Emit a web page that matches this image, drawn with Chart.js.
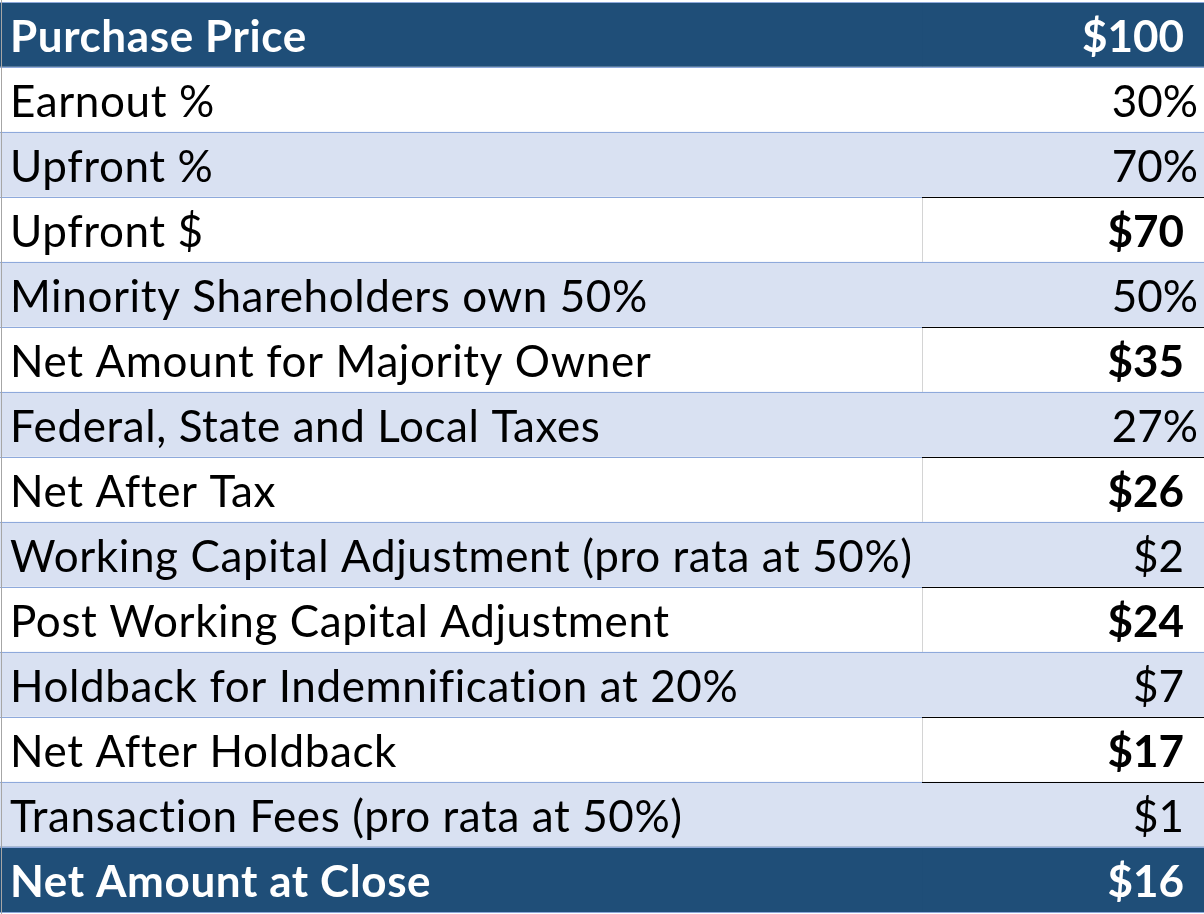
<!DOCTYPE html>
<html>
<head>
<meta charset="utf-8">
<script src="https://cdn.jsdelivr.net/npm/chart.js@4.4.1/dist/chart.umd.min.js"></script>
<style>
  html, body { margin: 0; padding: 0; background: #ffffff; }
  #wrap { width: 1204px; height: 914px; position: relative; }
</style>
</head>
<body>
<div id="wrap"><canvas id="table"></canvas></div>
<script>
// rows of the close-out table
const rowLabels = [
  'Purchase Price',
  'Earnout %',
  'Upfront %',
  'Upfront $',
  'Minority Shareholders own 50%',
  'Net Amount for Majority Owner',
  'Federal, State and Local Taxes',
  'Net After Tax',
  'Working Capital Adjustment (pro rata at 50%)',
  'Post Working Capital Adjustment',
  'Holdback for Indemnification at 20%',
  'Net After Holdback',
  'Transaction Fees (pro rata at 50%)',
  'Net Amount at Close'
];
const rowValues = ['$100', '30%', '70%', '$70', '50%', '$35', '27%', '$26', '$2', '$24', '$7', '$17', '$1', '$16'];

// which rows are header bands / subtotal rows
const headerRows = [0, 13];
const totalRows = [3, 5, 7, 9, 11];

const DARK = '#1F4E78';
const BAND = '#D9E1F2';
const LINE = '#8EA9DB';
const SPLIT = 922 / 1204;   // where the value column starts
const FONT = 'Lato';
const SIZE = 44;

function rowFill(i) {
  if (headerRows.includes(i)) return DARK;
  return i % 2 === 0 ? BAND : '#ffffff';
}

const tablePlugin = {
  id: 'tablePlugin',
  afterDatasetsDraw(chart) {
    const { ctx, scales: { x, y } } = chart;
    const x0 = x.getPixelForValue(0);
    const x1 = x.getPixelForValue(1);
    const xs = x.getPixelForValue(SPLIT);
    const half = (y.getPixelForValue(1) - y.getPixelForValue(0)) / 2;
    ctx.save();

    rowLabels.forEach((label, i) => {
      const cy = y.getPixelForValue(i);
      const top = cy - half;
      const bottom = cy + half;

      // row separators
      ctx.strokeStyle = LINE;
      ctx.lineWidth = 1;
      ctx.beginPath();
      ctx.moveTo(x0, Math.round(bottom) + 0.5);
      ctx.lineTo(x1, Math.round(bottom) + 0.5);
      if (i === 0) {
        ctx.moveTo(x0, Math.round(top) + 0.5);
        ctx.lineTo(x1, Math.round(top) + 0.5);
      }
      ctx.stroke();

      if (totalRows.includes(i)) {
        ctx.strokeStyle = '#d4d4d4';
        ctx.beginPath();
        ctx.moveTo(Math.round(xs) + 0.5, top);
        ctx.lineTo(Math.round(xs) + 0.5, bottom);
        ctx.stroke();
        ctx.strokeStyle = '#000000';
        ctx.beginPath();
        ctx.moveTo(xs, Math.round(top) + 0.5);
        ctx.lineTo(x1, Math.round(top) + 0.5);
        if (i === 11) {
          ctx.moveTo(xs, Math.round(bottom) + 0.5);
          ctx.lineTo(x1, Math.round(bottom) + 0.5);
        }
        ctx.stroke();
      }

      const head = headerRows.includes(i);
      const bold = head || totalRows.includes(i);
      ctx.fillStyle = head ? '#ffffff' : '#000000';
      ctx.textBaseline = 'alphabetic';
      ctx.letterSpacing = '0.6px';   // also keeps "ti" from joining
      const base = cy + 17;

      ctx.font = (head ? 'bold ' : '') + SIZE + 'px ' + FONT;
      ctx.textAlign = 'left';
      ctx.fillText(label, x0 + 10, base);

      ctx.letterSpacing = '0px';
      ctx.font = (bold ? 'bold ' : '') + SIZE + 'px ' + FONT;
      ctx.textAlign = 'right';
      const v = rowValues[i];
      ctx.fillText(v, v.endsWith('%') ? x1 - 6 : x1 - 20, base);
    });

    // left sheet edge
    ctx.strokeStyle = '#a6a6a6';
    ctx.beginPath();
    ctx.moveTo(1.5, 0);
    ctx.lineTo(1.5, chart.height);
    ctx.stroke();
    ctx.restore();
  }
};

new Chart(document.getElementById('table'), {
  type: 'bar',
  data: {
    labels: rowLabels,
    datasets: [{
      data: rowLabels.map(() => [0, SPLIT]),
      backgroundColor: rowLabels.map((l, i) => rowFill(i)),
      borderWidth: 0,
    }, {
      data: rowValues.map(() => [SPLIT, 1]),
      backgroundColor: rowValues.map((v, i) => rowFill(i)),
      borderWidth: 0,
    }]
  },
  options: {
    indexAxis: 'y',
    responsive: true,
    maintainAspectRatio: false,
    animation: false,
    devicePixelRatio: 1,
    grouped: false,
    barPercentage: 1,
    categoryPercentage: 1,
    layout: { padding: { top: 2, bottom: 2, left: 0, right: 0 } },
    scales: {
      x: { display: false, min: 0, max: 1 },
      y: { display: false }
    },
    plugins: {
      legend: { display: false },
      tooltip: { enabled: false }
    }
  },
  plugins: [tablePlugin]
});
</script>
</body>
</html>
